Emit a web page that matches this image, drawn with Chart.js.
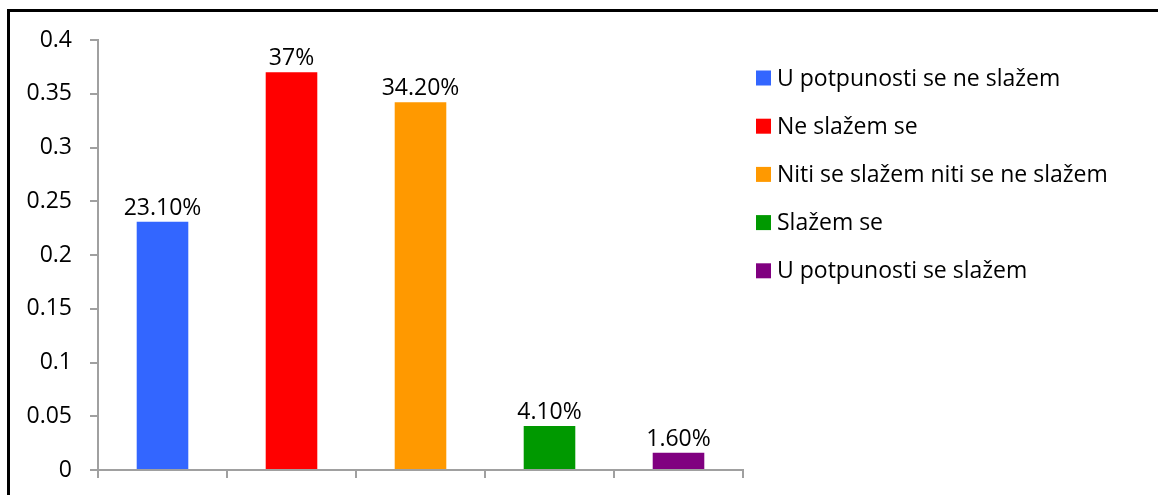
<!DOCTYPE html>
<html>
<head>
<meta charset="utf-8">
<script src="https://cdn.jsdelivr.net/npm/chart.js@4/dist/chart.umd.min.js"></script>
<style>
  html, body { margin: 0; padding: 0; background: #fff; overflow: hidden; }
  #wrap { position: relative; width: 1158px; height: 495px; }
  #frame {
    position: absolute; left: 7px; top: 9px; width: 1200px; height: 600px;
    border-top: 3px solid #000; border-left: 3px solid #000; pointer-events: none;
  }
  canvas { position: absolute; left: 0; top: 0; }
</style>
</head>
<body>
<div id="wrap">
  <canvas id="chart" width="1158" height="495"></canvas>
  <div id="frame"></div>
</div>
<script>
const categories = ['U potpunosti se ne slažem', 'Ne slažem se', 'Niti se slažem niti se ne slažem', 'Slažem se', 'U potpunosti se slažem'];
const values = [0.231, 0.37, 0.342, 0.041, 0.016];
const valueLabels = ['23.10%', '37%', '34.20%', '4.10%', '1.60%'];
const barColors = ['#3366FF', '#FF0000', '#FF9900', '#009900', '#800080'];
const yTicks = [0, 0.05, 0.1, 0.15, 0.2, 0.25, 0.3, 0.35, 0.4];

const FONT = '"Open Sans"';
const FONT_SIZE = 23;
const axisGray = '#A0A0A0';

// value labels over each bar
const barLabels = {
  id: 'barLabels',
  afterDatasetsDraw (chart) {
    const ctx = chart.ctx;
    const meta = chart.getDatasetMeta(0);
    ctx.save();
    ctx.font = FONT_SIZE + 'px ' + FONT;
    ctx.fillStyle = '#000';
    ctx.textAlign = 'center';
    ctx.textBaseline = 'alphabetic';
    meta.data.forEach((bar, i) => {
      ctx.fillText(valueLabels[i], bar.x, bar.y - 7);
    });
    ctx.restore();
  }
};

// legend to the right of the plot, one row per category
const sideLegend = {
  id: 'sideLegend',
  afterDraw (chart) {
    const ctx = chart.ctx;
    const area = chart.chartArea;
    const x = area.right + 13;
    ctx.save();
    ctx.font = FONT_SIZE + 'px ' + FONT;
    ctx.textAlign = 'left';
    ctx.textBaseline = 'middle';
    categories.forEach((c, i) => {
      const y = area.top + 38 + i * 48.2;
      ctx.fillStyle = barColors[i];
      ctx.fillRect(x, y - 7.5, 15, 15);
      ctx.fillStyle = '#000';
      ctx.fillText(c, x + 21, y + 1);
    });
    ctx.restore();
  }
};

const ctx = document.getElementById('chart').getContext('2d');
new Chart(ctx, {
  type: 'bar',
  data: {
    labels: categories,
    datasets: [{
      label: 'odgovori',
      data: values,
      backgroundColor: barColors,
      borderWidth: 0,
      categoryPercentage: 1,
      barPercentage: 0.4
    }]
  },
  options: {
    responsive: false,
    animation: false,
    layout: { padding: { left: 0, top: 40, right: 415, bottom: 0 } },
    plugins: {
      tooltip: { enabled: false },
      legend: { display: false }
    },
    scales: {
      x: {
        offset: true,
        afterFit (axis) { axis.height = 25; },
        grid: { display: true, drawOnChartArea: false, offset: true, color: axisGray, lineWidth: 2, tickLength: 8 },
        border: { color: axisGray, width: 2 },
        ticks: { display: false }
      },
      y: {
        min: 0,
        max: 0.4,
        afterFit (axis) {
          axis.width = 98;
          axis.paddingTop = 0;
          axis.paddingBottom = 0;
        },
        afterBuildTicks (axis) {
          axis.ticks = yTicks.map(v => ({ value: v }));
        },
        grid: { drawOnChartArea: false, color: axisGray, lineWidth: 2, tickLength: 8 },
        border: { color: axisGray, width: 2 },
        ticks: {
          padding: 18,
          color: '#000',
          font: { family: 'Open Sans', size: FONT_SIZE },
          callback: v => String(+v.toFixed(2))
        }
      }
    }
  },
  plugins: [barLabels, sideLegend]
});
</script>
</body>
</html>
